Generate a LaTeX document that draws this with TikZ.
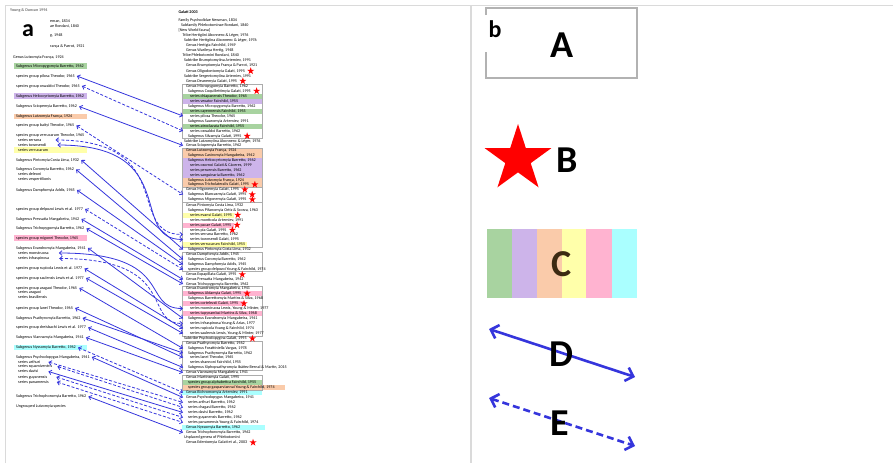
\documentclass[tikz,border=0pt]{standalone}
\usepackage{fontspec}
\setmainfont{Carlito}
\usetikzlibrary{positioning,shapes.geometric,arrows.meta}

\definecolor{hlgreen}{HTML}{A8D3A0}
\definecolor{hlpurple}{HTML}{CDB4EA}
\definecolor{hlorange}{HTML}{FACBAA}
\definecolor{hlyellow}{HTML}{FFFFAA}
\definecolor{hlpink}{HTML}{FFB3D0}
\definecolor{hlcyan}{HTML}{AAFFFF}
\definecolor{lnkblue}{HTML}{3535DC}
\definecolor{framegrey}{HTML}{DADADA}
\definecolor{keybrown}{HTML}{3C2A12}
\newcommand{\tinytxt}{\fontsize{4.1}{4.6}\selectfont}

\begin{document}
\begin{tikzpicture}[x=1pt,y=-1pt,
    >={Straight Barb[length=2.6pt,width=4.6pt]},
    lt/.style={anchor=west,inner xsep=2pt,inner ysep=0.3pt,font=\tinytxt},
    mt/.style={anchor=west,inner xsep=0.3pt,inner ysep=0.3pt,font=\tinytxt},
    grpbox/.style={draw=gray!65,line width=0.6pt},
    redstar/.style={star,star points=5,star point ratio=2.618,fill=red,inner sep=0pt,minimum size=7.5pt},
    lnk/.style={<->,draw=lnkblue,line width=0.8pt},
    dlnk/.style={lnk,dash pattern=on 3pt off 1.8pt},
    bigl/.style={font=\fontsize{24}{24}\selectfont\bfseries,inner sep=0pt},
    keyl/.style={font=\fontsize{38}{38}\selectfont\bfseries,inner sep=0pt},
    keyarr/.style={draw=lnkblue,line width=2.6pt,{Straight Barb[length=7pt,width=14pt]}-{Straight Barb[length=7pt,width=14pt]}}]

\useasboundingbox (0,0) rectangle (893,463);

% frames
\draw[framegrey,line width=1pt] (5,463) -- (5,5) -- (893,5);
\draw[framegrey,line width=1.6pt] (471,5) -- (471,463);

% colour bars, left list
\fill[hlgreen] (14,63.4) rectangle (87,68.6);
\fill[hlpurple] (14,93.4) rectangle (87,98.6);
\fill[hlorange] (14,113.9) rectangle (87,119.1);
\fill[hlyellow] (14,147.4) rectangle (87,152.6);
\fill[hlpink] (14,235.4) rectangle (87,240.6);
\fill[hlcyan] (14,344.9) rectangle (87,350.1);

% colour bars, Galati list
\fill[hlgreen] (182,93.5) rectangle (262,98.5);
\fill[hlpurple] (182,98.5) rectangle (262,103.5);
\fill[hlgreen] (182,108.5) rectangle (262,113.5);
\fill[hlgreen] (182,123.5) rectangle (262,128.5);
\fill[hlorange] (182,148) rectangle (262,158);
\fill[hlpurple] (182,158) rectangle (262,177.5);
\fill[hlorange] (182,177.5) rectangle (262,187);
\fill[hlyellow] (182,212.5) rectangle (234,217.5);
\fill[hlpink] (182,222.5) rectangle (234,227.5);
\fill[hlyellow] (182,242) rectangle (247,247);
\fill[hlpink] (182,291) rectangle (262,296);
\fill[hlpink] (182,301) rectangle (245,306);
\fill[hlpink] (182,311) rectangle (262,316);
\fill[hlgreen] (182,380) rectangle (262,385);
\fill[hlorange] (182,385) rectangle (285,390);
\fill[hlcyan] (182,390) rectangle (262,395);
\fill[hlcyan] (182,425) rectangle (265,430);

% group boxes
\draw[grpbox] (182,84) rectangle (262,138.5);   % Micropygomyia
\draw[grpbox] (182,148) rectangle (262,187);    % Lutzomyia
\draw[grpbox] (182,187) rectangle (262,202);    % Migonemyia
\draw[grpbox] (182,202) rectangle (262,247);    % Pintomyia
\draw[grpbox] (182,252) rectangle (262,271.5);  % Dampfomyia
\draw[grpbox] (182,286) rectangle (262,336);    % Evandromyia
\draw[grpbox] (182,341) rectangle (262,370);    % Psathyromyia
\draw[grpbox] (182,375) rectangle (262,390);    % Martinsmyia

%%%%%%%%%%%%%%%%%%%%%%%%%%%%%%%%%%%%%%%%%%%%%%%%%%%%%%%%%%%%%%%%%%%%%%%%%%%%%%%%%%%%

% a : old list
\node[lt,font=\tinytxt\bfseries,text=black!55] (LHEAD) at (8,10) {Young \& Duncan 1994};
\node[lt] (LFRAG1) at (48,21) {eman, 1834};
\node[lt] (LFRAG2) at (48,26) {ae Rondani, 1840};
\node[lt] (LFRAG3) at (48,35.5) {g, 1948};
\node[lt] (LFRAG4) at (48,46.5) {rança \& Parrot, 1921};
\node[bigl] (ALBL) at (28,31) {a};

\node[lt] (LGLUTZ) at (11,57) {Genus Lutzomyia França, 1924};
\node[lt] (LMICRO) at (14,66) {Subgenus Micropygomyia Barretto, 1962};
\node[lt] (LPILOSA) at (14,76) {species group pilosa Theodor, 1965};
\node[lt] (LOSWALDOI) at (14,86) {species group oswaldoi Theodor, 1965};
\node[lt] (LHELCO) at (14,96) {Subgenus Helcocyrtomyia Barretto, 1962};
\node[lt] (LSCIOPE) at (14,106.5) {Subgenus Sciopemyia Barretto, 1962};
\node[lt] (LLUTZ) at (14,116.5) {Subgenus Lutzomyia França, 1924};
\node[lt] (LBAITYI) at (14,125.5) {species group baityi Theodor, 1965};
\node[lt] (LVERRUC) at (14,135) {species group verrucarum Theodor, 1965};
\node[lt] (LSERRANA) at (16,140) {series serrana};
\node[lt] (LTOWNS) at (16,145) {series townsendi};
\node[lt] (LVERRUCS) at (16,150) {series verrucarum};
\node[lt] (LPINTO) at (14,160) {Subgenus Pintomyia Costa Lima, 1932};
\node[lt] (LCOROMYIA) at (14,169.5) {Subgenus Coromyia Barretto, 1962};
\node[lt] (LDELEONI) at (16,174.5) {series deleoni};
\node[lt] (LVESPER) at (16,179.5) {series vespertilionis};
\node[lt] (LDAMPFO) at (14,190) {Subgenus Dampfomyia Addis, 1945};
\node[lt] (LDELPOZOI) at (14,209) {species group delpozoi Lewis et al. 1977};
\node[lt] (LPRESSATIA) at (14,219) {Subgenus Pressatia Mangabeira, 1942};
\node[lt] (LTRICHOPYG) at (14,228.5) {Subgenus Trichopygomyia Barretto, 1962};
\node[lt] (LMIGONEI) at (14,238) {species group migonei Theodor, 1965};
\node[lt] (LEVANDRO) at (14,248) {Subgenus Evandromyia Mangabeira, 1941};
\node[lt] (LMONSTR) at (16,253) {series monstruosa};
\node[lt] (LINFRA) at (16,258.5) {series infraspinosa};
\node[lt] (LRUPICOLA) at (14,268.5) {species group rupicola Lewis et al. 1977};
\node[lt] (LSAULENSIS) at (14,278) {species group saulensis Lewis et al. 1977};
\node[lt] (LARAGAOI) at (14,288) {species group aragaoi Theodor, 1965};
\node[lt] (LARAGS) at (16,292.5) {series aragaoi};
\node[lt] (LBRASIL) at (16,297.5) {series brasiliensis};
\node[lt] (LLANEI) at (14,308) {species group lanei Theodor, 1965};
\node[lt] (LPSATHY) at (14,318) {Subgenus Psathyromyia Barretto, 1962};
\node[lt] (LDREISB) at (14,327.5) {species group dreisbachi Lewis et al. 1977};
\node[lt] (LVIANNA) at (14,337.5) {Subgenus Viannamyia Mangabeira, 1941};
\node[lt] (LNYSSO) at (14,347.5) {Subgenus Nyssomyia Barretto, 1962};
\node[lt] (LPSYCHO) at (14,357) {Subgenus Psychodopygus Mangabeira, 1941};
\node[lt] (LARTHURI) at (16,362) {series arthuri};
\node[lt] (LSQUAMI) at (16,366.5) {series squamiventris};
\node[lt] (LDAVISI) at (16,371.5) {series davisi};
\node[lt] (LGUYAN) at (16,377) {series guyanensis};
\node[lt] (LPANAM) at (16,382) {series panamensis};
\node[lt] (LTRICHOPH) at (14,396.5) {Subgenus Trichophoromyia Barretto, 1962};
\node[lt] (LUNGR) at (14,406.5) {Ungrouped Lutzomyia species};

%%%%%%%%%%%%%%%%%%%%%%%%%%%%%%%%%%%%%%%%%%%%%%%%%%%%%%%%%%%%%%%%%%%%%%%%%%%%%%%%%%%%

% a : Galati list
\node[mt,font=\tinytxt\bfseries] (MHEAD) at (178,12) {Galati 2003};
\node[mt] (MFAM) at (178,20) {Family Psychodidae Newman, 1834};
\node[mt] (MSUBFAM) at (180.5,25) {Subfamily Phlebotominae Rondani, 1840};
\node[mt] (MNWF) at (178,30) {[New World fauna]};
\node[mt] (MHERTTRIB) at (182,35) {Tribe Hertigiini Abonnenc \& Léger, 1976};
\node[mt] (MHERTSUB) at (183.5,40) {Subtribe Hertigiina Abonnenc \& Léger, 1976};
\node[mt] (MHERTIGIA) at (185.5,45) {Genus Hertigia Fairchild, 1949};
\node[mt] (MWARILEYA) at (185.5,50) {Genus Warileya Hertig, 1948};
\node[mt] (MPHLTRIB) at (182,55) {Tribe Phlebotomini Rondani, 1840};
\node[mt] (MBRUMSUB) at (183.5,60) {Subtribe Brumptomyiina Artemiev, 1991};
\node[mt] (MBRUMPTO) at (185.5,65.5) {Genus Brumptomyia França \& Parrot, 1921};
\node[mt] (MOLIGO) at (185.5,71) {Genus Oligodontomyia Galati, 1995};
\node[mt] (MSERGSUB) at (183.5,76) {Subtribe Sergentomyiina Artemiev, 1991};
\node[mt] (MDEANE) at (185.5,81) {Genus Deanemyia Galati, 1995};
% Micropygomyia
\node[mt] (MMICRO) at (185.5,86) {Genus Micropygomyia Barretto, 1962};
\node[mt] (MCOQUIL) at (187.5,91) {Subgenus Coquillettimyia Galati, 1995};
\node[mt] (MCHIAP) at (189.5,96) {series chiapanensis Theodor, 1965};
\node[mt] (MVEXATOR) at (189.5,101) {series vexator Fairchild, 1955};
\node[mt] (MMICROSG) at (187.5,106) {Subgenus Micropygomyia Barretto, 1962};
\node[mt] (MCAYEN) at (189.5,111) {series cayennensis Fairchild, 1955};
\node[mt] (MPILOSA) at (189.5,116) {series pilosa Theodor, 1965};
\node[mt] (MSAURO) at (187.5,121) {Subgenus Sauromyia Artemiev, 1991};
\node[mt] (MATROCL) at (189.5,126) {series atroclavata Fairchild, 1955};
\node[mt] (MOSWALDOI) at (189.5,131) {series oswaldoi Barretto, 1962};
\node[mt] (MSILVA) at (187.5,136) {Subgenus Silvamyia Galati, 1995};
\node[mt] (MLUTZSUB) at (183.5,141) {Subtribe Lutzomyiina Abonnenc \& Léger, 1976};
\node[mt] (MSCIOPE) at (185.5,145.5) {Genus Sciopemyia Barretto, 1962};
% Lutzomyia
\node[mt] (MLUTZ) at (185.5,150.5) {Genus Lutzomyia França, 1924};
\node[mt] (MCASTRO) at (187.5,155.5) {Subgenus Castromyia Mangabeira, 1942};
\node[mt] (MHELCO) at (187.5,160.5) {Subgenus Helcocyrtomyia Barretto, 1962};
\node[mt] (MOSORNOI) at (189.5,165.5) {series osornoi Galati \& Cáceres, 1999};
\node[mt] (MPERUEN) at (189.5,170.5) {series peruensis Barretto, 1962};
\node[mt] (MSANGUI) at (189.5,175) {series sanguinaria Barretto, 1962};
\node[mt] (MLUTZSG) at (187.5,180) {Subgenus Lutzomyia França, 1924};
\node[mt] (MTRICHOL) at (187.5,184.5) {Subgenus Tricholateralis Galati, 1995};
% Migonemyia
\node[mt] (MMIGONE) at (185.5,189.5) {Genus Migonemyia Galati, 1995};
\node[mt] (MBLANCAS) at (187.5,194.5) {Subgenus Blancasmyia Galati, 1995};
\node[mt] (MMIGONESG) at (187.5,199.5) {Subgenus Migonemyia Galati, 1995};
% Pintomyia
\node[mt] (MPINTO) at (185.5,205) {Genus Pintomyia Costa Lima, 1932};
\node[mt] (MPIFANO) at (187.5,210) {Subgenus Pifanomyia Ortiz \& Scorza, 1963};
\node[mt] (MEVANSI) at (189.5,215) {series evansi Galati, 1995};
\node[mt] (MMONTIC) at (189.5,220) {series monticola Artemiev, 1991};
\node[mt] (MPACAE) at (189.5,225) {series pacae Galati, 1995};
\node[mt] (MPIA) at (189.5,230) {series pia Galati, 1995};
\node[mt] (MSERRANA) at (189.5,234.5) {series serrana Barretto, 1962};
\node[mt] (MTOWNS) at (189.5,239.5) {series townsendi Galati, 1995};
\node[mt] (MVERRUC) at (189.5,244.5) {series verrucarum Fairchild, 1955};
\node[mt] (MPINTOSG) at (187.5,249.5) {Subgenus Pintomyia Costa Lima, 1932};
% Dampfomyia
\node[mt] (MDAMPFO) at (185.5,254.5) {Genus Dampfomyia Addis, 1945};
\node[mt] (MCOROMYIA) at (187.5,259.5) {Subgenus Coromyia Barretto, 1962};
\node[mt] (MDAMPFOSG) at (187.5,264.5) {Subgenus Dampfomyia Addis, 1945};
\node[mt] (MDELPOZOI) at (187.5,269.5) {species group delpozoi Young \& Fairchild, 1974};
\node[mt] (MEXPAP) at (185.5,274.5) {Genus Expapillata Galati, 1995};
\node[mt] (MPRESSATIA) at (185.5,279.5) {Genus Pressatia Mangabeira, 1942};
\node[mt] (MTRICHOPYG) at (185.5,284) {Genus Trichopygomyia Barretto, 1962};
% Evandromyia
\node[mt] (MEVANDRO) at (185.5,288.5) {Genus Evandromyia Mangabeira, 1941};
\node[mt] (MALDA) at (187.5,293.5) {Subgenus Aldamyia Galati, 1995};
\node[mt] (MBARRETTO) at (187.5,298.5) {Subgenus Barrettomyia Martins \& Silva, 1968};
\node[mt] (MCORTEL) at (189.5,303.5) {series cortelezzii Galati, 1995};
\node[mt] (MMONSTR) at (189.5,308.5) {series monstruosa Lewis, Young \& Minter, 1977};
\node[mt] (MTUPY) at (189.5,313.5) {series tupynambai Martins \& Silva, 1968};
\node[mt] (MEVANDROSG) at (187.5,318.5) {Subgenus Evandromyia Mangabeira, 1941};
\node[mt] (MINFRA) at (189.5,323.5) {series infraspinosa Young \& Arias, 1977};
\node[mt] (MRUPICOLA) at (189.5,328.5) {series rupicola Young \& Fairchild, 1974};
\node[mt] (MSAULENSIS) at (189.5,333.5) {series saulensis Lewis, Young \& Minter, 1977};
\node[mt] (MPSYSUB) at (183.5,338.5) {Subtribe Psychodopygina Galati, 1995};
% Psathyromyia
\node[mt] (MPSATHY) at (185.5,343.5) {Genus Psathyromyia Barretto, 1962};
\node[mt] (MFORATT) at (187.5,348.5) {Subgenus Forattiniella Vargas, 1978};
\node[mt] (MPSATHYSG) at (187.5,353) {Subgenus Psathyromyia Barretto, 1962};
\node[mt] (MLANEI) at (189.5,357.5) {series lanei Theodor, 1965};
\node[mt] (MSHANNONI) at (189.5,362.5) {series shannoni Fairchild, 1955};
\node[mt] (MXIPHO) at (187.5,367.5) {Subgenus Xiphopsathyromyia Ibáñez Bernal \& Martin, 2015};
\node[mt] (MVIANNA) at (185.5,372.5) {Genus Viannamyia Mangabeira, 1941};
% Martinsmyia
\node[mt] (MMARTINS) at (185.5,377.5) {Genus Martinsmyia Galati, 1995};
\node[mt] (MALPHAB) at (187.5,382.5) {species group alphabetica Fairchild, 1955};
\node[mt] (MGASPAR) at (187.5,387.5) {species group gasparviannai Young \& Fairchild, 1974};
\node[mt] (MBICHRO) at (185.5,392.5) {Genus Bichromomyia Artemiev, 1991};
\node[mt] (MPSYCHO) at (185.5,397.5) {Genus Psychodopygus Mangabeira, 1941};
\node[mt] (MARTHURI) at (187.5,402.5) {series arthuri Barretto, 1962};
\node[mt] (MCHAGASI) at (187.5,407.5) {series chagasi Barretto, 1962};
\node[mt] (MDAVISI) at (187.5,412.5) {series davisi Barretto, 1962};
\node[mt] (MGUYAN) at (187.5,417.5) {series guyanensis Barretto, 1962};
\node[mt] (MPANAM) at (187.5,422.5) {series panamensis Young \& Fairchild, 1974};
\node[mt] (MNYSSO) at (185.5,427.5) {Genus Nyssomyia Barretto, 1962};
\node[mt] (MTRICHOPH) at (185.5,432.5) {Genus Trichophoromyia Barretto, 1962};
\node[mt] (MUNPL) at (183.5,437.5) {Unplaced genera of Phlebotomini};
\node[mt] (MEDENTO) at (185.5,442.5) {Genus Edentomyia Galati et al., 2003};

% new taxa
\node[redstar,right=3pt of MOLIGO] (SOLIGO) {};
\node[redstar,right=3pt of MDEANE] (SDEANE) {};
\node[redstar,right=3pt of MCOQUIL] (SCOQUIL) {};
\node[redstar,right=3pt of MSILVA] (SSILVA) {};
\node[redstar,right=3pt of MTRICHOL] (STRICHOL) {};
\node[redstar,right=3pt of MMIGONE] (SMIGONE) {};
\node[redstar,right=3pt of MBLANCAS] (SBLANCAS) {};
\node[redstar,right=3pt of MMIGONESG] (SMIGONESG) {};
\node[redstar,right=3pt of MEVANSI] (SEVANSI) {};
\node[redstar,right=3pt of MPACAE] (SPACAE) {};
\node[redstar,right=3pt of MPIA] (SPIA) {};
\node[redstar,right=3pt of MEXPAP] (SEXPAP) {};
\node[redstar,right=3pt of MALDA] (SALDA) {};
\node[redstar,right=3pt of MCORTEL] (SCORTEL) {};
\node[redstar,right=3pt of MPSYSUB] (SPSYSUB) {};
\node[redstar,right=3pt of MEDENTO] (SEDENTO) {};

%%%%%%%%%%%%%%%%%%%%%%%%%%%%%%%%%%%%%%%%%%%%%%%%%%%%%%%%%%%%%%%%%%%%%%%%%%%%%%%%%%%%

% links
\coordinate (MEDGE) at (183,0);
\draw[lnk] (LPILOSA.east) -- (MPILOSA.west -| MEDGE);
\draw[dlnk] (LOSWALDOI.east) -- (MOSWALDOI.west -| MEDGE);
\draw[lnk] (LSCIOPE.east) -- (MSCIOPE.west -| MEDGE);
\draw[dlnk] (LBAITYI.east) -- (MBLANCAS.west -| MEDGE);
\draw[dlnk] ([xshift=12pt]LSERRANA.east) .. controls +(123,0) and +(-58,0) .. (MSERRANA.west -| MEDGE);
\draw[lnk] ([xshift=9pt]LTOWNS.east) .. controls +(125,0) and +(-55,0) .. (MTOWNS.west -| MEDGE);
\draw[lnk] (LPINTO.east) -- (MPINTOSG.west -| MEDGE);
\draw[lnk] (LCOROMYIA.east) -- (MCOROMYIA.west -| MEDGE);
\draw[lnk] (LDAMPFO.east) -- (MDAMPFOSG.west -| MEDGE);
\draw[dlnk] (LDELPOZOI.east) -- (MDELPOZOI.west -| MEDGE);
\draw[lnk] (LPRESSATIA.east) -- (MPRESSATIA.west -| MEDGE);
\draw[lnk] (LTRICHOPYG.east) -- (MTRICHOPYG.west -| MEDGE);
\draw[lnk] (LEVANDRO.east) -- (MEVANDROSG.west -| MEDGE);
\draw[lnk] ([xshift=8pt]LMONSTR.east) .. controls +(118,0) and +(-43,0) .. (MMONSTR.west -| MEDGE);
\draw[dlnk] ([xshift=8pt]LINFRA.east) .. controls +(121,0) and +(-41,0) .. (MINFRA.west -| MEDGE);
\draw[lnk] (LRUPICOLA.east) -- (MRUPICOLA.west -| MEDGE);
\draw[lnk] (LSAULENSIS.east) -- (MSAULENSIS.west -| MEDGE);
\draw[lnk] (LARAGAOI.east) -- (MFORATT.west -| MEDGE);
\draw[lnk] (LLANEI.east) -- (MLANEI.west -| MEDGE);
\draw[lnk] (LPSATHY.east) -- (MPSATHYSG.west -| MEDGE);
\draw[lnk] (LDREISB.east) -- (MXIPHO.west -| MEDGE);
\draw[lnk] (LVIANNA.east) -- (MVIANNA.west -| MEDGE);
\draw[dlnk] (LNYSSO.east) -- (MBICHRO.west -| MEDGE);
\draw[lnk] (LPSYCHO.east) -- (MPSYCHO.west -| MEDGE);
\draw[dlnk] ([xshift=6pt]LARTHURI.east) -- (MARTHURI.west -| MEDGE);
\draw[dlnk] ([xshift=3pt]LSQUAMI.east) -- (MCHAGASI.west -| MEDGE);
\draw[lnk] ([xshift=8pt]LDAVISI.east) -- (MDAVISI.west -| MEDGE);
\draw[dlnk] ([xshift=7pt]LGUYAN.east) -- (MGUYAN.west -| MEDGE);
\draw[dlnk] ([xshift=6pt]LPANAM.east) -- (MPANAM.west -| MEDGE);
\draw[lnk] (LTRICHOPH.east) -- (MTRICHOPH.west -| MEDGE);

%%%%%%%%%%%%%%%%%%%%%%%%%%%%%%%%%%%%%%%%%%%%%%%%%%%%%%%%%%%%%%%%%%%%%%%%%%%%%%%%%%%%

% b : key
\draw[gray!60,line width=2pt] (486,15) -- (486,8) -- (637,8) -- (637,78) -- (486,78) -- (486,52);
\node[bigl] (BLBL) at (495,29) {b};
\node[keyl] (KEYA) at (562,45) {A};

\node[redstar,minimum size=70pt] (KEYSTAR) at (518,159) {};
\node[keyl] (KEYB) at (567,160) {B};

\fill[hlgreen] (486.7,229) rectangle (512.3,298);
\fill[hlpurple] (512.3,229) rectangle (536.7,298);
\fill[hlorange] (536.7,229) rectangle (561.7,298);
\fill[hlyellow] (561.7,229) rectangle (586,298);
\fill[hlpink] (586,229) rectangle (611.7,298);
\fill[hlcyan] (611.7,229) rectangle (636.7,298);
\node[keyl,text=keybrown] (KEYC) at (562,264.5) {C};

\coordinate (DL) at (489,329);
\coordinate (DR) at (635,377);
\draw[keyarr] (DL) -- (DR);
\node[keyl] (KEYD) at (561,354) {D};

\coordinate (EL) at (489,398);
\coordinate (ER) at (635,446);
\draw[keyarr,dash pattern=on 7pt off 4pt] (EL) -- (ER);
\node[keyl] (KEYE) at (560,423.5) {E};

\end{tikzpicture}
\end{document}
